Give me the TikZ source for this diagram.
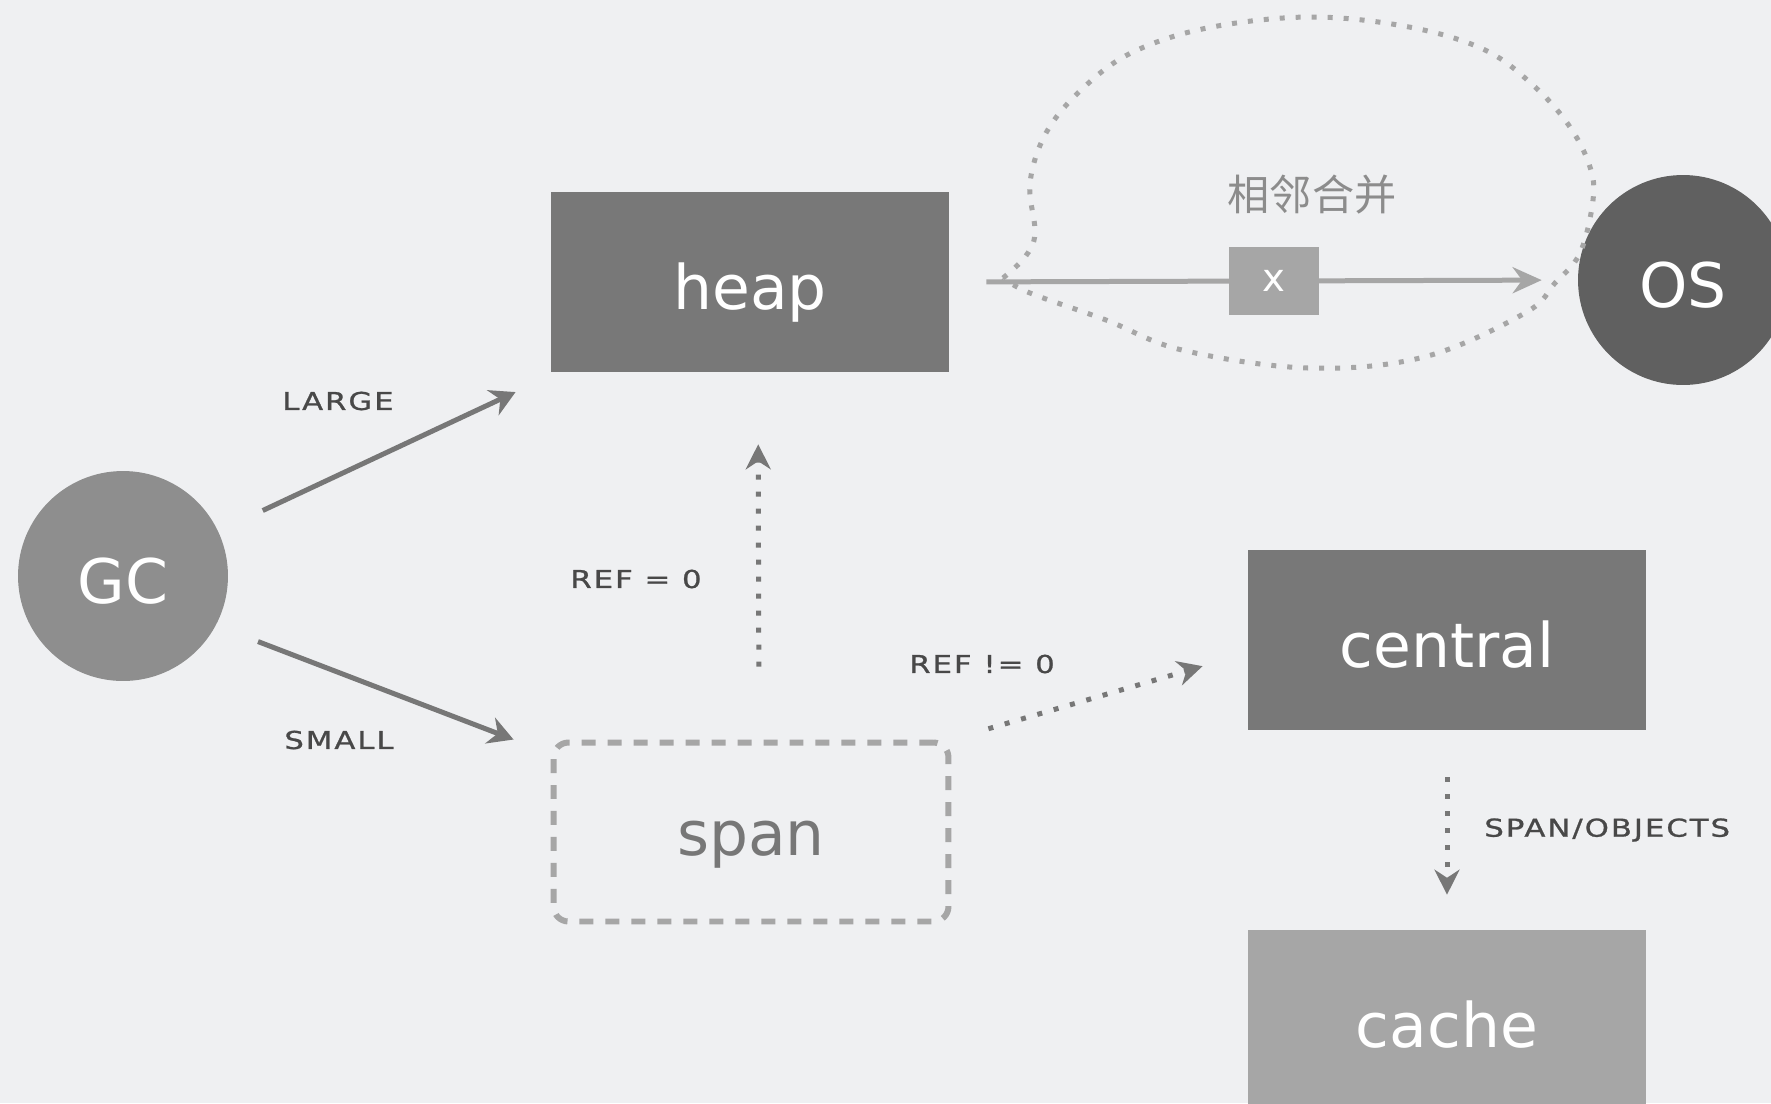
\documentclass[tikz,border=0pt]{standalone}
\usepackage{fontspec}
\setmainfont{DejaVu Sans}
\newfontfamily\cjk{Noto Sans CJK SC}
\newfontfamily\capsfont[FakeStretch=1.25,LetterSpace=8,FakeBold=1]{DejaVu Sans}
\usetikzlibrary{arrows.meta,positioning}
\definecolor{bg}{HTML}{EFF0F2}
\definecolor{boxgray}{HTML}{787878}
\definecolor{gcgray}{HTML}{8E8E8E}
\definecolor{osgray}{HTML}{606060}
\definecolor{lightgray}{HTML}{A6A6A6}
\definecolor{arrowgray}{HTML}{777777}
\definecolor{labelgray}{HTML}{484848}

\begin{document}
\begin{tikzpicture}[x=0.02cm,y=-0.02cm,
  box/.style={rectangle, fill=boxgray, text=white, minimum width=7.96cm, minimum height=3.6cm, text height=31pt, text depth=0pt, font=\fontsize{35}{42}\selectfont},
  round/.style={circle, text=white, minimum size=4.2cm, inner sep=0pt, text height=31pt, text depth=0pt, font=\fontsize{35}{42}\selectfont},
  tag/.style={text=labelgray, font=\capsfont\fontsize{14}{16}\selectfont, inner sep=0pt},
  flow/.style={draw=arrowgray, line width=0.1cm, -{Stealth[length=0.5cm,width=0.55cm]}},
  dotflow/.style={draw=arrowgray, line width=0.1cm, dash pattern=on 0.1cm off 0.24cm, -{Stealth[length=0.5cm,width=0.5cm]}}]
\fill[bg] (0,0) rectangle (1771,1103);
\useasboundingbox (0,0) rectangle (1771,1103);

% nodes
\node[round, fill=gcgray] (GC) at (123,576) {GC};
\node[box] (heap) at (750,282) {heap};
\node[round, fill=osgray] (OS) at (1683,280) {OS};
\node[box] (central) at (1447,640) {central};
\node[box, fill=lightgray] (cache) at (1447,1020) {cache};
\node[rectangle, draw=lightgray, line width=0.12cm, dash pattern=on 0.28cm off 0.24cm, rounded corners=0.3cm,
  minimum width=7.9cm, minimum height=3.58cm, text=arrowgray, text height=27pt, text depth=0pt, font=\fontsize{35}{42}\selectfont] (span) at (751,832) {span};

% merge bubble
\draw[draw=lightgray, line width=0.1cm, dash pattern=on 0.1cm off 0.22cm] plot[smooth, tension=0.6] coordinates {
  (1003,278) (1025,257) (1035,233) (1030,183) (1046,133) (1081,90) (1131,53) (1207,28) (1310,17) (1409,27)
  (1485,50) (1535,87) (1570,127) (1590,167) (1593,200) (1580,253) (1555,283) (1525,313) (1424,357)
  (1308,368) (1182,350) (1106,320) (1030,293) (1003,278)};
\node[text=gray!90, font=\cjk\fontsize{24}{28}\selectfont] (merge) at (1312,195) {相邻合并};
\draw[draw=lightgray, line width=0.1cm, shorten <=0.74cm, shorten >=0.72cm, -{Stealth[length=0.58cm,width=0.52cm]}] (heap.east) -- (OS.west);
\node[rectangle, fill=lightgray, text=white, minimum width=1.8cm, minimum height=1.36cm, font=\fontsize{22}{26}\selectfont] (cut) at (1274,281) {x};

% arrows
\draw[flow, shorten <=0.98cm, shorten >=0.93cm] (GC) -- (heap);
\draw[flow, shorten <=0.9cm] (GC.-28) -- ([xshift=-0.74cm]span.north west);
\draw[dotflow, shorten <=1.46cm, shorten >=1.44cm] ([xshift=0.16cm]span.north) -- ([xshift=0.16cm]heap.south);
\draw[dotflow, shorten <=0.77cm, shorten >=0.94cm] (span.north east) -- ([yshift=-0.26cm]central.west);
\draw[dotflow, shorten <=0.94cm, shorten >=0.7cm] (central.south) -- (cache.north);

% labels
\node[tag] (large) at (338,401) {LARGE};
\node[tag] (small) at (339,740) {SMALL};
\node[tag] (refzero) at (636,579) {REF = 0};
\node[tag] (refnonzero) at (982,664) {REF != 0};
\node[tag, anchor=west] (spanobj) at (1484,830) {SPAN/OBJECTS};
\end{tikzpicture}
\end{document}
